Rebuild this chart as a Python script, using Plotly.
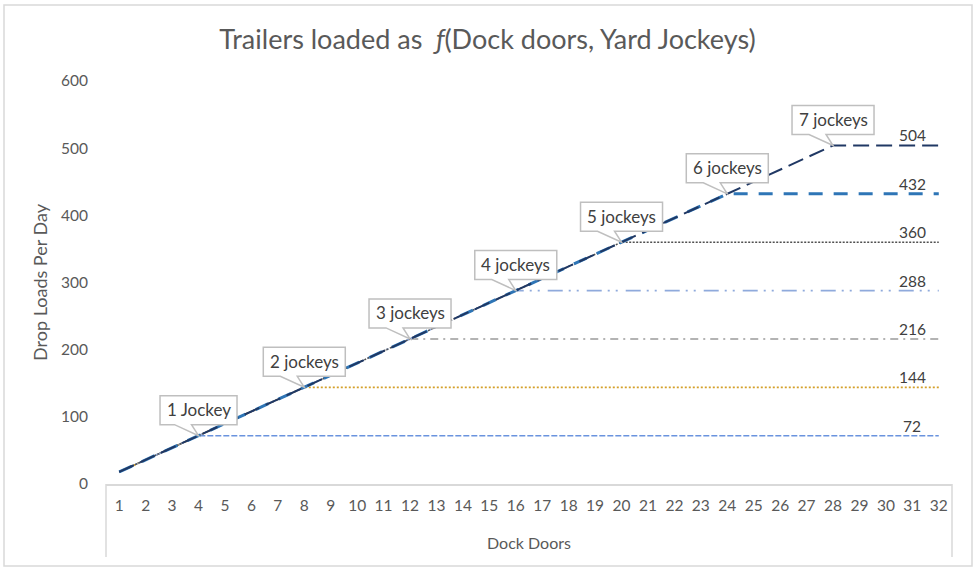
import plotly.graph_objects as go

# ---------------- data ----------------
doors = [1, 2, 3, 4, 5, 6, 7, 8, 9, 10, 11, 12, 13, 14, 15, 16,
         17, 18, 19, 20, 21, 22, 23, 24, 25, 26, 27, 28, 29, 30, 31, 32]

s1 = [18, 36, 54, 72, 72, 72, 72, 72,
      72, 72, 72, 72, 72, 72, 72, 72,
      72, 72, 72, 72, 72, 72, 72, 72,
      72, 72, 72, 72, 72, 72, 72, 72]
s2 = [18, 36, 54, 72, 90, 108, 126, 144,
      144, 144, 144, 144, 144, 144, 144, 144,
      144, 144, 144, 144, 144, 144, 144, 144,
      144, 144, 144, 144, 144, 144, 144, 144]
s3 = [18, 36, 54, 72, 90, 108, 126, 144,
      162, 180, 198, 216, 216, 216, 216, 216,
      216, 216, 216, 216, 216, 216, 216, 216,
      216, 216, 216, 216, 216, 216, 216, 216]
s4 = [18, 36, 54, 72, 90, 108, 126, 144,
      162, 180, 198, 216, 234, 252, 270, 288,
      288, 288, 288, 288, 288, 288, 288, 288,
      288, 288, 288, 288, 288, 288, 288, 288]
s5 = [18, 36, 54, 72, 90, 108, 126, 144,
      162, 180, 198, 216, 234, 252, 270, 288,
      306, 324, 342, 360, 360, 360, 360, 360,
      360, 360, 360, 360, 360, 360, 360, 360]
s6 = [18, 36, 54, 72, 90, 108, 126, 144,
      162, 180, 198, 216, 234, 252, 270, 288,
      306, 324, 342, 360, 378, 396, 414, 432,
      432, 432, 432, 432, 432, 432, 432, 432]
s7 = [18, 36, 54, 72, 90, 108, 126, 144,
      162, 180, 198, 216, 234, 252, 270, 288,
      306, 324, 342, 360, 378, 396, 414, 432,
      450, 468, 486, 504, 504, 504, 504, 504]

series = [s1, s2, s3, s4, s5, s6, s7]
series_names = ["1 Jockey", "2 Jockeys", "3 Jockeys", "4 Jockeys",
                "5 Jockeys", "6 Jockeys", "7 Jockeys"]
callout_text = ["1 Jockey", "2 jockeys", "3 jockeys", "4 jockeys",
                "5 jockeys", "6 jockeys", "7 jockeys"]
callout_door = [4, 8, 12, 16, 20, 24, 28]     # door where each series levels off
callout_value = [72, 144, 216, 288, 360, 432, 504]
end_label_door = 31
end_labels = ["72", "144", "216", "288", "360", "432", "504"]
y_ticks = [0, 100, 200, 300, 400, 500, 600]

# ---------------- styles ----------------
styles = [
    dict(color="#6A93DE", width=1.5, dash="6px,2px"),
    dict(color="#D4A02A", width=1.75, dash="2px,2px"),
    dict(color="#9A9A9A", width=1.5, dash="8px,5px,2px,5px"),
    dict(color="#8FAADC", width=1.75, dash="15px,6px,2px,6px,2px,8px"),
    dict(color="#505050", width=1.5, dash="2px,1.5px"),
    dict(color="#2E75B6", width=3, dash="14px,11px"),
    dict(color="#203864", width=2, dash="16px,7px"),
]

FONT = "Lato"
TXT = "#595959"

fig = go.Figure()
for vals, name, st in zip(series, series_names, styles):
    fig.add_trace(go.Scatter(x=doors, y=vals, mode="lines", name=name,
                             line=st, hoverinfo="x+y+name"))

# ---------------- layout ----------------
L, R, T, B = 106, 23, 81, 85
W, H = 975, 569
pw, ph = W - L - R, H - T - B

shapes = []
# outer chart border
shapes.append(dict(type="rect", xref="paper", yref="paper",
                   x0=(4 - L) / pw, x1=(972 - L) / pw,
                   y0=(T + ph - 566) / ph, y1=(T + ph - 5) / ph,
                   line=dict(color="#D9D9D9", width=1.5), layer="below"))
# category axis box side lines
for xp in (0, 1):
    shapes.append(dict(type="line", xref="paper", yref="paper",
                       x0=xp, x1=xp, y0=0, y1=-73 / ph,
                       line=dict(color="#D9D9D9", width=1.5)))

annotations = []
for txt, xd, yd in zip(callout_text, callout_door, callout_value):
    half = 38.5 if txt == "1 Jockey" else 41
    path = (f"M {-half},11 L -24,11 L 0,0 L -7,11 L {half},11 "
            f"L {half},40 L {-half},40 Z")
    shapes.append(dict(type="path", xref="x", yref="y",
                       xsizemode="pixel", ysizemode="pixel",
                       xanchor=xd, yanchor=yd, path=path,
                       fillcolor="white",
                       line=dict(color="#BFBFBF", width=1.5),
                       layer="above"))
    annotations.append(dict(x=xd, y=yd, xref="x", yref="y", text=txt,
                            showarrow=False, yshift=26, xshift=0,
                            font=dict(family=FONT, size=17, color="#404040")))

for lab, v in zip(end_labels, callout_value):
    annotations.append(dict(x=end_label_door, y=v, xref="x", yref="y",
                            text=lab, showarrow=False, yshift=10,
                            font=dict(family=FONT, size=15.5, color="#404040")))

fig.update_layout(
    width=W, height=H,
    margin=dict(l=L, r=R, t=T, b=B),
    paper_bgcolor="white", plot_bgcolor="white",
    showlegend=False,
    font=dict(family=FONT, color=TXT),
    title=dict(text="Trailers loaded as \u00a0<i>ƒ</i>(Dock doors, Yard Jockeys)",
               x=0.5, xref="container", xanchor="center",
               y=1 - 40 / H, yanchor="middle",
               font=dict(family=FONT, size=27, color=TXT)),
    xaxis=dict(range=[0.5, 32.5], tickmode="array", tickvals=doors,
               ticktext=[str(d) for d in doors],
               showgrid=False, zeroline=False,
               showline=True, linecolor="#D9D9D9", linewidth=1.5,
               ticks="outside", ticklen=7, tickcolor="rgba(0,0,0,0)",
               tickfont=dict(family=FONT, size=15.5, color=TXT),
               title=dict(text="Dock Doors", standoff=24,
                          font=dict(family=FONT, size=16, color=TXT)),
               fixedrange=True),
    yaxis=dict(range=[0, 600], tickmode="array", tickvals=y_ticks,
               showgrid=False, zeroline=False, showline=False,
               ticks="outside", ticklen=14, tickcolor="rgba(0,0,0,0)",
               tickfont=dict(family=FONT, size=15.5, color=TXT),
               title=dict(text="Drop Loads Per Day", standoff=8,
                          font=dict(family=FONT, size=18, color=TXT)),
               fixedrange=True),
    shapes=shapes,
    annotations=annotations,
)

fig.write_html("out.html",
               config={"displayModeBar": False},
               post_script="document.body.style.margin='0';"
                           "document.body.style.overflow='hidden';")
